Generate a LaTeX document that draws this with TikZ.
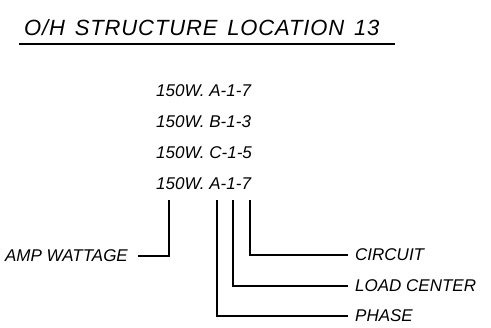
\documentclass[tikz,border=0pt]{standalone}
\usepackage{fontspec}
\setmainfont{Liberation Sans}
\newfontfamily\titlefont{Liberation Sans}[LetterSpace=4, WordSpace=1.4]
\begin{document}
\begin{tikzpicture}[
    x=1pt, y=-1pt,
    cad/.style={font=\itshape\fontsize{17}{17}\selectfont, inner sep=0pt},
    tag/.style={cad, inner xsep=7pt, anchor=west},
    lead/.style={line width=1.4pt}
]
\useasboundingbox (0,0) rectangle (491,328);

\node[cad, font=\titlefont\itshape\fontsize{22}{22}\selectfont, anchor=west] (title) at (24,28) {O/H STRUCTURE LOCATION 13};
\draw[lead] (19,44) -- (395,44);

\node[cad, anchor=west] (codeA) at (156,91) {150W. A-1-7};
\node[cad, anchor=west] (codeB) at (156,122) {150W. B-1-3};
\node[cad, anchor=west] (codeC) at (156,153) {150W. C-1-5};
\node[cad, anchor=west] (codeD) at (156,184) {150W. A-1-7};

\coordinate (wattTop) at (169,200);
\coordinate (phaseTop) at (217,200);
\coordinate (loadTop) at (233,200);
\coordinate (circTop) at (250,200);

\node[cad, inner xsep=10pt, anchor=east] (watt) at (138,256) {AMP WATTAGE};
\node[tag] (circ) at (348,255) {CIRCUIT};
\node[tag] (load) at (348,286) {LOAD CENTER};
\node[tag] (phase) at (348,316) {PHASE};

\draw[lead] (wattTop) |- (watt.east);
\draw[lead] (circTop) |- (circ.west);
\draw[lead] (loadTop) |- (load.west);
\draw[lead] (phaseTop) |- (phase.west);

\end{tikzpicture}
\end{document}
